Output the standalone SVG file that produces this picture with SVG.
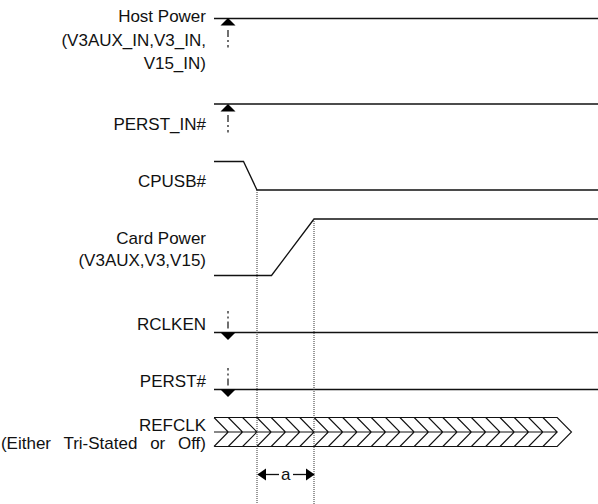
<svg xmlns="http://www.w3.org/2000/svg" width="598" height="504" viewBox="0 0 598 504">
<defs>
<style>
.lbl{font-family:"Liberation Sans",Arial,sans-serif;font-size:17px;fill:#111;text-anchor:end}
.sig{fill:none;stroke:#111;stroke-width:1.3}
.tri{fill:#000}
.dd{fill:none;stroke:#111;stroke-width:1.2;stroke-dasharray:7 3 2 3 2.5 100}
.dot{fill:none;stroke:#333;stroke-width:1;stroke-dasharray:1 1}
.hatch{fill:none;stroke:#111;stroke-width:1.1}
</style>
</defs>
<rect width="598" height="504" fill="#fff"/>

<g id="host-power">
<text class="lbl" x="206" y="22">Host Power</text>
<text class="lbl" x="206" y="46">(V3AUX_IN,V3_IN,</text>
<text class="lbl" x="206" y="69">V15_IN)</text>
<line class="sig" x1="214" y1="18.5" x2="598" y2="18.5"/>
<polygon class="tri" points="220.5,25.5 235.5,25.5 228,18"/>
<line class="dd" x1="228" y1="30" x2="228" y2="49"/>
</g>

<g id="perst-in">
<text class="lbl" x="206" y="130">PERST_IN#</text>
<line class="sig" x1="214" y1="104" x2="598" y2="104"/>
<polygon class="tri" points="220.5,111.5 235.5,111.5 228,104"/>
<line class="dd" x1="228" y1="115" x2="228" y2="133"/>
</g>

<g id="cpusb">
<text class="lbl" x="206" y="187">CPUSB#</text>
<polyline class="sig" points="214,161.5 243.5,161.5 257,190 598,190"/>
</g>

<g id="card-power">
<text class="lbl" x="206" y="244">Card Power</text>
<text class="lbl" x="206" y="266">(V3AUX,V3,V15)</text>
<polyline class="sig" points="214,275.5 271.5,275.5 314,219 598,219"/>
</g>

<g id="rclken">
<text class="lbl" x="206" y="330">RCLKEN</text>
<line class="sig" x1="214" y1="332.5" x2="598" y2="332.5"/>
<polygon class="tri" points="220.5,332.5 235.5,332.5 228,340"/>
<line class="dd" x1="228" y1="328.5" x2="228" y2="309"/>
</g>

<g id="perst">
<text class="lbl" x="206" y="387">PERST#</text>
<line class="sig" x1="214" y1="389.5" x2="598" y2="389.5"/>
<polygon class="tri" points="220.5,389.5 235.5,389.5 228,397"/>
<line class="dd" x1="228" y1="385.5" x2="228" y2="366"/>
</g>

<g id="refclk">
<text class="lbl" x="206" y="431">REFCLK</text>
<text class="lbl" x="206" y="449" style="word-spacing:8px">(Either Tri-Stated or Off)</text>
<path class="hatch" d="M214,417.5 H557.2 L571.5,432 L557.2,446.5 H214 M214,432 H557.2
M214,417.5 L228.3,432 L214,446.5
M228.3,417.5 L242.6,432 L228.3,446.5
M242.6,417.5 L256.9,432 L242.6,446.5
M256.9,417.5 L271.2,432 L256.9,446.5
M271.2,417.5 L285.5,432 L271.2,446.5
M285.5,417.5 L299.8,432 L285.5,446.5
M299.8,417.5 L314.1,432 L299.8,446.5
M314.1,417.5 L328.4,432 L314.1,446.5
M328.4,417.5 L342.7,432 L328.4,446.5
M342.7,417.5 L357,432 L342.7,446.5
M357,417.5 L371.3,432 L357,446.5
M371.3,417.5 L385.6,432 L371.3,446.5
M385.6,417.5 L399.9,432 L385.6,446.5
M399.9,417.5 L414.2,432 L399.9,446.5
M414.2,417.5 L428.5,432 L414.2,446.5
M428.5,417.5 L442.8,432 L428.5,446.5
M442.8,417.5 L457.1,432 L442.8,446.5
M457.1,417.5 L471.4,432 L457.1,446.5
M471.4,417.5 L485.7,432 L471.4,446.5
M485.7,417.5 L500,432 L485.7,446.5
M500,417.5 L514.3,432 L500,446.5
M514.3,417.5 L528.6,432 L514.3,446.5
M528.6,417.5 L542.9,432 L528.6,446.5
M542.9,417.5 L557.2,432 L542.9,446.5"/>
</g>

<g id="connectors">
<line class="dot" x1="257" y1="190" x2="257" y2="504"/>
<line class="dot" x1="314" y1="219" x2="314" y2="504"/>
<line class="sig" x1="264" y1="474.5" x2="279" y2="474.5"/>
<line class="sig" x1="293" y1="474.5" x2="308" y2="474.5"/>
<polygon class="tri" points="257.3,474.5 266,468.5 266,480.5"/>
<polygon class="tri" points="314.7,474.5 306,468.5 306,480.5"/>
<text x="285.7" y="479.5" style="font-family:'Liberation Sans',Arial,sans-serif;font-size:17px;fill:#111;text-anchor:middle">a</text>
</g>
</svg>
